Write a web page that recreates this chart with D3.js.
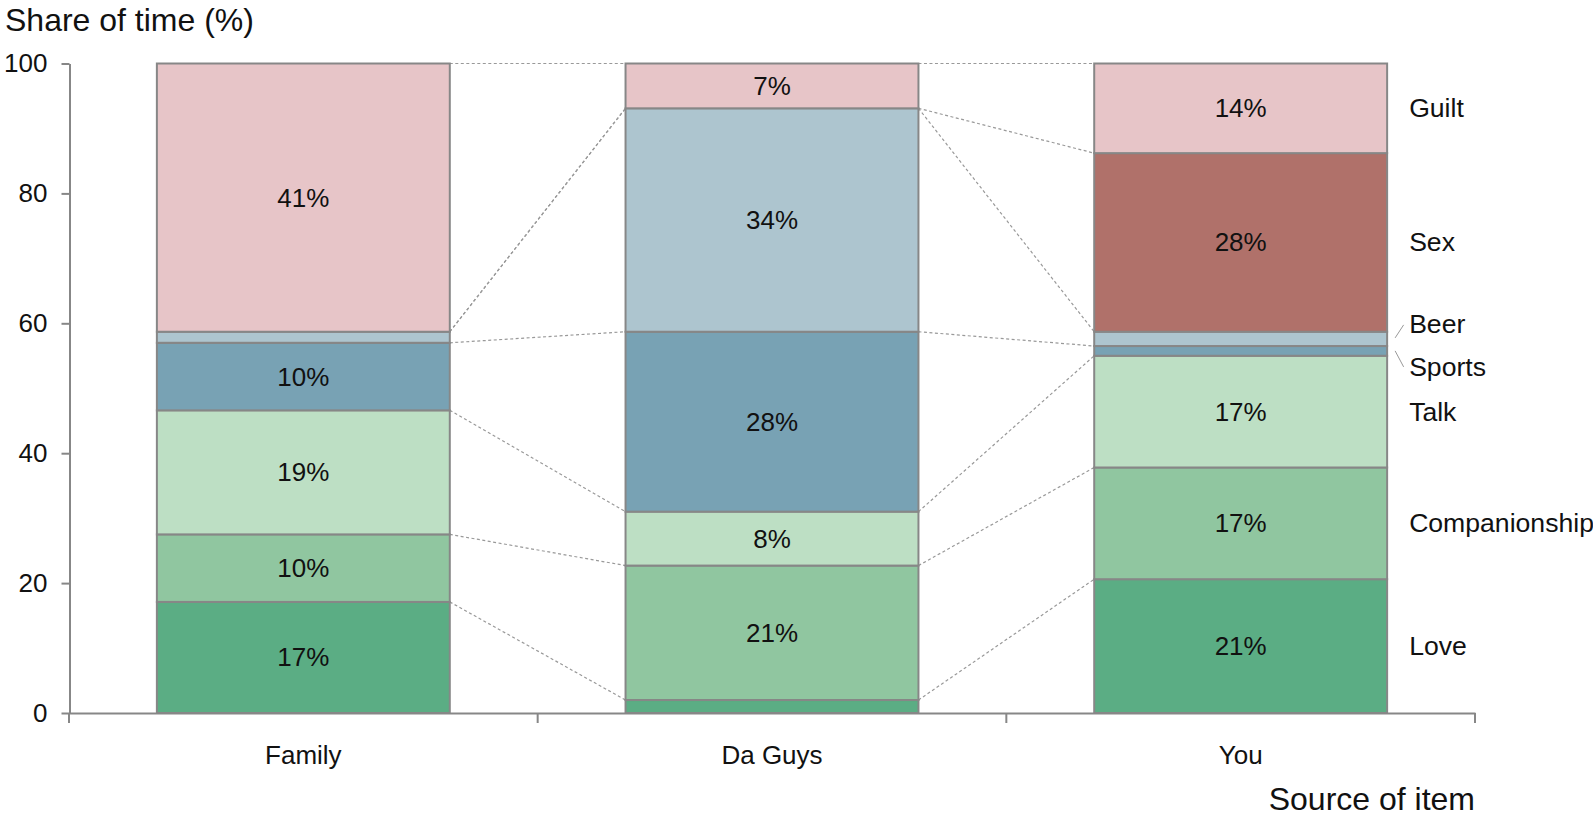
<!DOCTYPE html>
<html>
<head>
<meta charset="utf-8">
<script src="https://cdn.jsdelivr.net/npm/d3@7"></script>
<style>
  html, body { margin: 0; padding: 0; background: #fff; }
  svg { display: block; font-family: "Liberation Sans", Arial, sans-serif; }
</style>
</head>
<body>
<svg id="chart" width="1593" height="817"></svg>
<script>
// ---- data ----
const categories = ["Family", "Da Guys", "You"];
const seriesNames = ["Love", "Companionship", "Talk", "Sports", "Beer", "Sex", "Guilt"];
const love          = [17.1,  2.0, 20.6];
const companionship = [10.4, 20.7, 17.2];
const talk          = [19.1,  8.3, 17.2];
const sports        = [10.4, 27.7,  1.5];
const beer          = [ 1.7, 34.4,  2.2];
const sex           = [ 0.0,  0.0, 27.5];
const guilt         = [41.3,  6.9, 13.8];
const yTicks = [0, 20, 40, 60, 80, 100];
const yTitle = "Share of time (%)";
const xTitle = "Source of item";

const seriesValues = [love, companionship, talk, sports, beer, sex, guilt];
const colors = ["#5bad84", "#90c6a0", "#bddfc4", "#78a2b4", "#adc5cf", "#b0716a", "#e7c5c8"];

// build table for stacking
const rows = categories.map((c, i) => {
  const r = { category: c };
  seriesNames.forEach((s, j) => r[s] = seriesValues[j][i]);
  return r;
});
const stacked = d3.stack().keys(seriesNames)(rows);

const svg = d3.select("#chart");
const gray = "#878787";
const fontSize = 26;

const x = d3.scaleBand().domain(categories).range([69, 1475]).padding(0);
const y = d3.scaleLinear().domain([0, 100]).range([713, 63.5]);
const barW = x.bandwidth() * 0.625;
const barX = c => x(c) + (x.bandwidth() - barW) / 2;

// connectors (dotted)
const conn = svg.append("g");
for (let i = 0; i < categories.length - 1; i++) {
  const c0 = categories[i], c1 = categories[i + 1];
  stacked.forEach(layer => {
    conn.append("line")
      .attr("x1", barX(c0) + barW).attr("x2", barX(c1))
      .attr("y1", y(layer[i][1])).attr("y2", y(layer[i + 1][1]))
      .attr("stroke", "#999").attr("stroke-width", 1.2)
      .attr("stroke-dasharray", "3,2.5");
  });
}

// bars
const gBars = svg.append("g");
stacked.forEach((layer, j) => {
  gBars.selectAll(null)
    .data(layer.filter(d => d[1] - d[0] > 0))
    .join("rect")
    .attr("x", d => barX(d.data.category))
    .attr("width", barW)
    .attr("y", d => y(d[1]))
    .attr("height", d => y(d[0]) - y(d[1]))
    .attr("fill", colors[j])
    .attr("stroke", gray)
    .attr("stroke-width", 2);
});

// segment labels
const gLab = svg.append("g");
stacked.forEach(layer => {
  gLab.selectAll(null)
    .data(layer.filter(d => d.data[layer.key] >= 5))
    .join("text")
    .attr("x", d => x(d.data.category) + x.bandwidth() / 2)
    .attr("y", d => y((d[0] + d[1]) / 2))
    .attr("text-anchor", "middle")
    .attr("dominant-baseline", "central")
    .attr("font-size", fontSize)
    .attr("fill", "#111")
    .text(d => Math.round(d.data[layer.key]) + "%");
});

// y axis
const yAxis = svg.append("g")
  .attr("transform", "translate(69.5,0)")
  .call(d3.axisLeft(y).tickValues(yTicks).tickSize(8).tickSizeOuter(0).tickPadding(14));
yAxis.select(".domain").attr("stroke", gray).attr("stroke-width", 2);
yAxis.selectAll(".tick line").attr("stroke", gray).attr("stroke-width", 2);
yAxis.selectAll(".tick text").attr("font-size", fontSize).attr("fill", "#111")
  .attr("font-family", "Liberation Sans, Arial, sans-serif");

// x axis
const xAxis = svg.append("g")
  .attr("transform", "translate(0,713)")
  .call(d3.axisBottom(x).tickSize(0).tickSizeOuter(0).tickPadding(33));
xAxis.select(".domain").attr("stroke", gray).attr("stroke-width", 2);
xAxis.selectAll(".tick text").attr("font-size", fontSize).attr("fill", "#111")
  .attr("font-family", "Liberation Sans, Arial, sans-serif");
const bounds = categories.map(c => x(c)).concat([x.range()[1]]);
xAxis.selectAll(".bound")
  .data(bounds)
  .join("line")
  .attr("x1", d => d).attr("x2", d => d)
  .attr("y1", 0).attr("y2", 10)
  .attr("stroke", gray).attr("stroke-width", 2);

// right-side series labels (from last column)
const lastIdx = categories.length - 1;
const labelX = barX(categories[lastIdx]) + barW + 22;
const offsets = { Beer: -15, Sports: 16 };
stacked.forEach(layer => {
  const d = layer[lastIdx];
  const cy = y((d[0] + d[1]) / 2);
  const off = offsets[layer.key] || 0;
  svg.append("text")
    .attr("x", labelX)
    .attr("y", cy + off)
    .attr("dominant-baseline", "central")
    .attr("font-size", 26.6)
    .attr("fill", "#111")
    .text(layer.key);
  if (off !== 0) {
    const x0 = barX(categories[lastIdx]) + barW + 8;
    svg.append("line")
      .attr("x1", x0).attr("y1", cy + (off < 0 ? -1 : 0))
      .attr("x2", x0 + 8.5).attr("y2", cy + off + (off < 0 ? 1 : 0))
      .attr("stroke", "#999").attr("stroke-width", 1);
  }
});

// titles
svg.append("text").attr("x", 5).attr("y", 31)
  .attr("font-size", 32).attr("fill", "#111").text(yTitle);
svg.append("text").attr("x", 1475).attr("y", 810)
  .attr("text-anchor", "end")
  .attr("font-size", 32).attr("fill", "#111").text(xTitle);
</script>
</body>
</html>
